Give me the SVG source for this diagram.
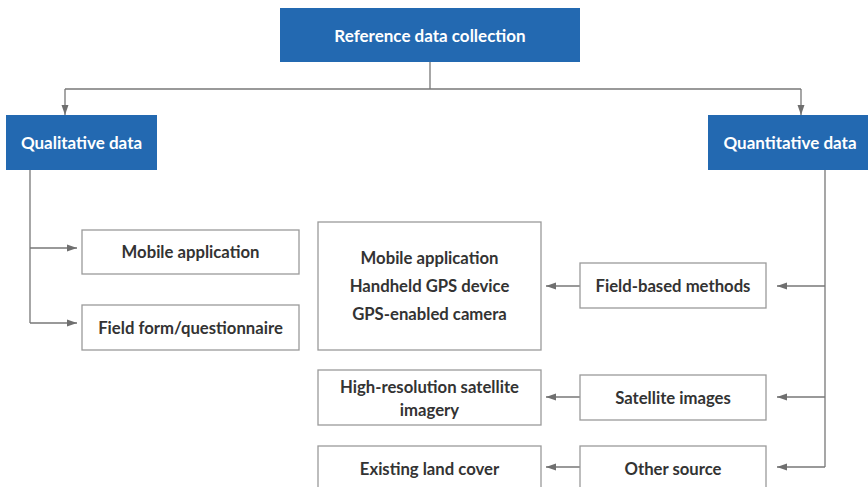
<svg xmlns="http://www.w3.org/2000/svg" width="868" height="487" viewBox="0 0 868 487">
<defs>
<marker id="ah" viewBox="0 0 10 10" refX="10" refY="5" markerWidth="10" markerHeight="10" markerUnits="userSpaceOnUse" orient="auto">
<path d="M0,1.5 L10,5 L0,8.5 Z" fill="#6f6f6f"/>
</marker>
<style>
.blue{fill:#2369b1;}
.box{fill:#fff;stroke:#9a9a9a;stroke-width:1.3;}
.wt{font-family:Lato,"Noto Sans",sans-serif;font-size:17px;font-weight:bold;fill:#fff;text-anchor:middle;}
.t{font-family:Lato,"Noto Sans",sans-serif;font-size:16.7px;font-weight:bold;fill:#333;text-anchor:middle;}
.ln{fill:none;stroke:#777;stroke-width:1.3;}
</style>
</defs>
<rect width="868" height="487" fill="#fff"/>
<g id="connectors">
<path class="ln" d="M430,62 V89"/>
<path class="ln" d="M65,89 H801"/>
<path class="ln" d="M65,89 V115" marker-end="url(#ah)"/>
<path class="ln" d="M801,89 V115" marker-end="url(#ah)"/>
<path class="ln" d="M30,170 V323"/>
<path class="ln" d="M30,248 H77" marker-end="url(#ah)"/>
<path class="ln" d="M30,323 H77" marker-end="url(#ah)"/>
<path class="ln" d="M825,170 V467"/>
<path class="ln" d="M825,286 H777" marker-end="url(#ah)"/>
<path class="ln" d="M825,397 H777" marker-end="url(#ah)"/>
<path class="ln" d="M825,467 H777" marker-end="url(#ah)"/>
<path class="ln" d="M580,286 H546" marker-end="url(#ah)"/>
<path class="ln" d="M580,397 H546" marker-end="url(#ah)"/>
<path class="ln" d="M580,467 H546" marker-end="url(#ah)"/>
</g>
<g id="root"><rect class="blue" x="280" y="8" width="300" height="54"/><text class="wt" x="430" y="42">Reference data collection</text></g>
<g id="qualitative"><rect class="blue" x="6" y="115" width="151" height="55"/><text class="wt" x="81.5" y="149">Qualitative data</text></g>
<g id="quantitative"><rect class="blue" x="708" y="115" width="165" height="55"/><text class="wt" x="790" y="149">Quantitative data</text></g>
<g id="mobile-app"><rect class="box" x="82" y="230" width="217" height="44"/><text class="t" x="190.5" y="258">Mobile application</text></g>
<g id="field-form"><rect class="box" x="82" y="305" width="217" height="45"/><text class="t" x="190.5" y="334">Field form/questionnaire</text></g>
<g id="field-tools"><rect class="box" x="318" y="222" width="223" height="128"/>
<text class="t" x="429.5" y="264">Mobile application</text>
<text class="t" x="429.5" y="292">Handheld GPS device</text>
<text class="t" x="429.5" y="320">GPS-enabled camera</text></g>
<g id="hires"><rect class="box" x="318" y="370" width="223" height="55"/>
<text class="t" x="429.5" y="393">High-resolution satellite</text>
<text class="t" x="429.5" y="416">imagery</text></g>
<g id="landcover"><rect class="box" x="318" y="446" width="223" height="50"/><text class="t" x="429.5" y="475">Existing land cover</text></g>
<g id="field-based"><rect class="box" x="580" y="263" width="186" height="45"/><text class="t" x="673" y="292">Field-based methods</text></g>
<g id="satellite"><rect class="box" x="580" y="375" width="186" height="45"/><text class="t" x="673" y="404">Satellite images</text></g>
<g id="other"><rect class="box" x="580" y="446" width="186" height="50"/><text class="t" x="673" y="475">Other source</text></g>
</svg>
